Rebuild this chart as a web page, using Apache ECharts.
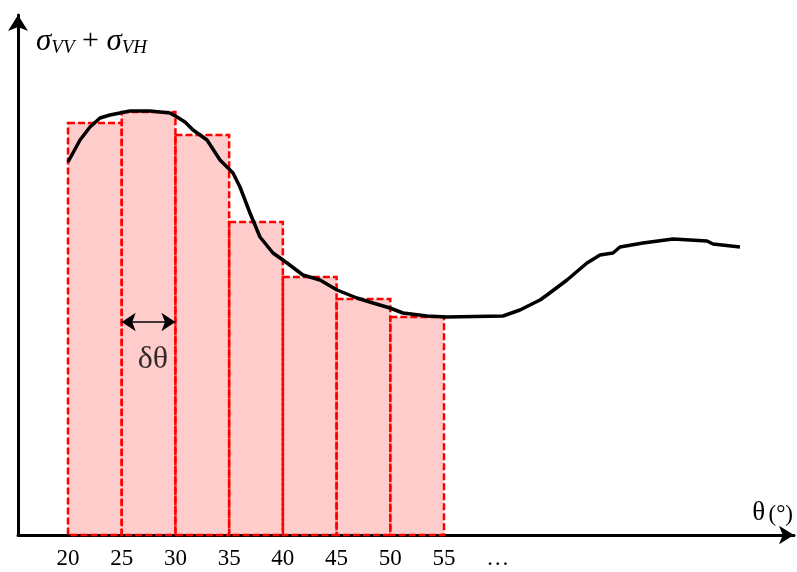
<!DOCTYPE html>
<html>
<head>
<meta charset="utf-8">
<script src="https://cdn.jsdelivr.net/npm/echarts@6/dist/echarts.min.js"></script>
<style>html,body{margin:0;padding:0;background:#fff}#c{width:797px;height:572px}</style>
</head>
<body>
<div id="c"></div>
<script>
// Bars (angle bins) and their heights
const binStarts = [20, 25, 30, 35, 40, 45, 50];
const binWidth = 5;
const binHeights = [412, 423, 400, 313, 258, 236, 218];

// Continuous curve sigma_VV + sigma_VH vs theta
const curveTheta = [20.0, 21.12, 22.05, 22.98, 23.91, 24.84, 25.77, 27.63, 29.49, 30.15, 30.89, 31.64, 32.94, 34.15, 35.36, 36.01, 36.94, 37.87, 39.08, 40.39, 41.87, 43.46, 45.04, 46.90, 48.39, 49.97, 51.18, 53.42, 55.28, 60.49, 62.07, 63.00, 63.94, 64.59, 66.45, 68.31, 69.52, 70.73, 71.38, 73.52, 76.32, 79.48, 80.04, 82.55];
const curveSigma = [373, 395, 408, 417, 420, 422, 424, 424, 422, 418, 413, 405, 395, 375, 362, 348, 322, 298, 282, 272, 260, 255, 245, 237, 232, 227, 222, 219, 218, 219, 225, 230, 235, 240, 255, 272, 280, 282, 288, 292, 296, 294, 291, 288];

// Tick labels
const tickValues = [20, 25, 30, 35, 40, 45, 50, 55, 60];
const tickLabels = ['20', '25', '30', '35', '40', '45', '50', '55', '…'];

// delta-theta annotation
const dThetaRange = [25, 30];
const dThetaLevel = 213;
const dThetaLabelPos = [27.9, 175];

const chart = echarts.init(document.getElementById('c'), null, {renderer: 'canvas'});
const serif = '"Liberation Serif", "DejaVu Serif", serif';

chart.setOption({
  animation: false,
  backgroundColor: '#fff',
  grid: {left: 18, right: 3, top: 15, bottom: 37},
  xAxis: {
    type: 'value', min: 15.346, max: 87.58,
    splitLine: {show: false}, axisTick: {show: false},
    axisLine: {show: true, onZero: false, lineStyle: {color: '#000', width: 3},
      symbol: ['none', 'arrow'], symbolSize: [14, 15]},
    axisLabel: {
      customValues: tickValues,
      formatter: v => tickLabels[tickValues.indexOf(v)] ?? '',
      color: '#000', fontFamily: serif, fontSize: 23, margin: 12,
      showMinLabel: true, showMaxLabel: true
    }
  },
  yAxis: {
    type: 'value', min: 0, max: 520,
    splitLine: {show: false}, axisTick: {show: false}, axisLabel: {show: false},
    axisLine: {show: true, onZero: false, lineStyle: {color: '#000', width: 3},
      symbol: ['none', 'arrow'], symbolSize: [15, 16]}
  },
  graphic: [
    {type: 'text', left: 36, top: 26, style: {
      rich: {
        s: {fontFamily: serif, fontStyle: 'italic', fontSize: 31, fill: '#000'},
        sub: {fontFamily: serif, fontStyle: 'italic', fontSize: 19, fill: '#000', padding: [12, 0, 0, 0]},
        p: {fontFamily: serif, fontSize: 30, fill: '#000'}
      },
      text: '{s|σ}{sub|VV}{p| + }{s|σ}{sub|VH}'
    }},
    {type: 'text', right: 4, top: 499, style: {
      rich: {
        t: {fontFamily: serif, fontSize: 27, fill: '#000', verticalAlign: 'bottom'},
        d: {fontFamily: serif, fontSize: 23, fill: '#000', verticalAlign: 'bottom'}
      },
      text: '{t|θ} {d|(°)}'
    }}
  ],
  series: [
    {
      type: 'custom', z: 2,
      data: binStarts.map((s, i) => [s, s + binWidth, binHeights[i]]),
      renderItem: (params, api) => {
        const p0 = api.coord([api.value(0), 0]);
        const p1 = api.coord([api.value(1), api.value(2)]);
        return {
          type: 'rect',
          shape: {x: p0[0], y: p1[1], width: p1[0] - p0[0], height: p0[1] - p1[1]},
          style: {fill: 'rgba(255,0,0,0.2)', stroke: '#ff0000', lineWidth: 2.5, lineDash: [7, 3]}
        };
      }
    },
    {
      type: 'line', z: 5, showSymbol: false, symbol: 'none', smooth: false,
      data: curveTheta.map((t, i) => [t, curveSigma[i]]),
      lineStyle: {color: '#000', width: 3.5},
      markLine: {
        silent: true, symbol: ['arrow', 'arrow'], symbolSize: [14, 14],
        lineStyle: {color: '#000', width: 1.5, type: 'solid'},
        label: {show: false},
        data: [[{coord: [dThetaRange[0], dThetaLevel]}, {coord: [dThetaRange[1], dThetaLevel]}]]
      }
    },
    {
      type: 'scatter', z: 6, symbolSize: 0, silent: true,
      data: [dThetaLabelPos],
      itemStyle: {color: '#000'},
      label: {show: true, position: 'inside', formatter: 'δθ', fontFamily: serif, fontSize: 32, color: '#000'}
    }
  ]
});
</script>
</body>
</html>
